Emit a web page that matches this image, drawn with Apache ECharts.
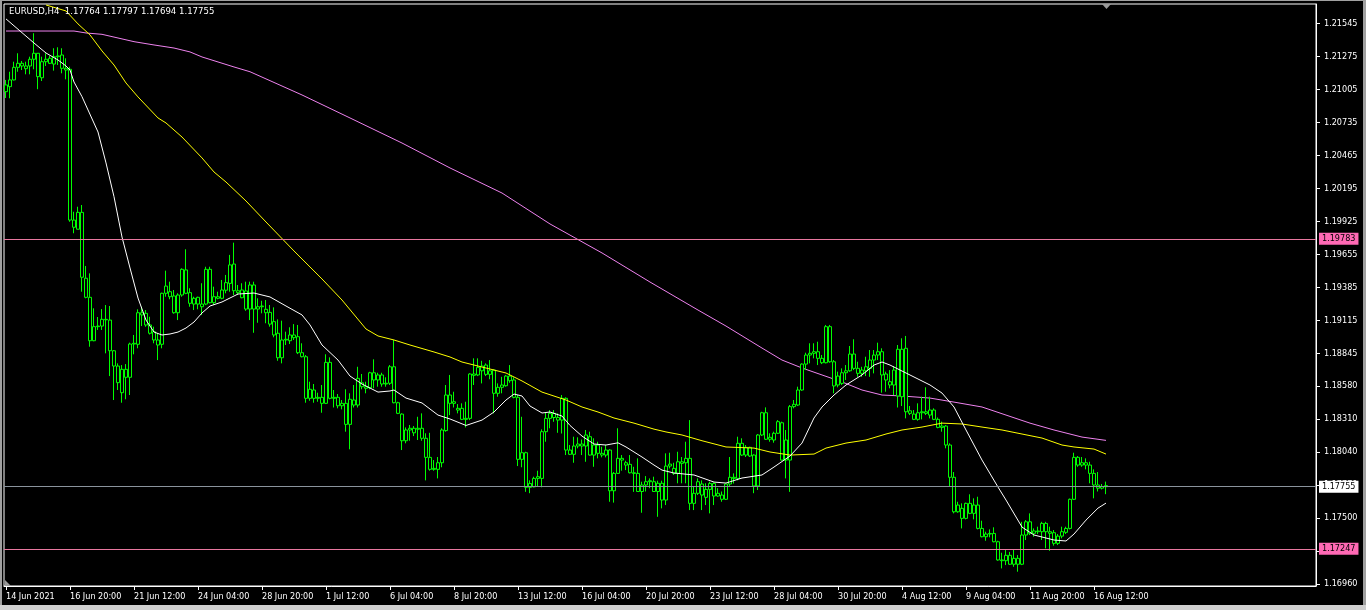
<!DOCTYPE html>
<html>
<head>
<meta charset="utf-8">
<script src="https://cdn.jsdelivr.net/npm/echarts@6/dist/echarts.min.js"></script>
<style>
html,body{margin:0;padding:0;background:#000;}
#c{width:1366px;height:610px;}
</style>
</head>
<body>
<div id="c"></div>
<script>
// ---- DATA (EURUSD H4) ----
var symbolTitle = 'EURUSD,H4  1.17764 1.17797 1.17694 1.17755';
var timeTickLabels = ['14 Jun 2021','16 Jun 20:00','21 Jun 12:00','24 Jun 04:00','28 Jun 20:00','1 Jul 12:00','6 Jul 04:00','8 Jul 20:00','13 Jul 12:00','16 Jul 04:00','20 Jul 20:00','23 Jul 12:00','28 Jul 04:00','30 Jul 20:00','4 Aug 12:00','9 Aug 04:00','11 Aug 20:00','16 Aug 12:00'];
var priceTicks = [1.16960,1.17230,1.17500,1.17770,1.18040,1.18310,1.18580,1.18845,1.19115,1.19385,1.19655,1.19925,1.20195,1.20465,1.20735,1.21005,1.21275,1.21545];
var priceLines = [1.19783, 1.17755, 1.17247];

var opens = [1.20986,1.21027,1.21082,1.21185,1.21218,1.21196,1.21196,1.21251,1.21300,1.21100,1.21231,1.21259,1.21212,1.21272,1.21286,1.21177,1.21169,1.19936,1.19861,1.19999,
1.19460,1.19304,1.18949,1.19064,1.19069,1.19124,1.19118,1.18867,1.18742,1.18715,1.18650,1.18650,1.18922,1.18920,1.19178,1.19173,1.19078,1.19023,1.18955,1.18920,
1.19337,1.19350,1.19315,1.19178,1.19323,1.19528,1.19342,1.19296,1.19249,1.19249,1.19249,1.19533,1.19260,1.19309,1.19296,1.19362,1.19418,1.19576,1.19358,1.19364,
1.19356,1.19208,1.19405,1.19208,1.19227,1.19206,1.19181,1.19105,1.19010,1.18810,1.18955,1.18949,1.18996,1.18982,1.18851,1.18818,1.18478,1.18546,1.18478,1.18486,
1.18437,1.18772,1.18478,1.18486,1.18417,1.18437,1.18265,1.18464,1.18423,1.18605,1.18573,1.18565,1.18687,1.18628,1.18669,1.18595,1.18601,1.18736,1.18442,1.18349,
1.18131,1.18219,1.18233,1.18225,1.18233,1.18151,1.17995,1.17897,1.17897,1.17951,1.18214,1.18505,1.18437,1.18396,1.18396,1.18306,1.18314,1.18677,1.18669,1.18703,
1.18750,1.18674,1.18709,1.18519,1.18568,1.18581,1.18660,1.18628,1.18486,1.17979,1.18033,1.17750,1.17754,1.17823,1.17823,1.18205,1.18314,1.18355,1.18321,1.18300,
1.18478,1.18055,1.18020,1.18088,1.18104,1.18088,1.18164,1.18014,1.18096,1.18028,1.18014,1.18055,1.17722,1.17864,1.17987,1.17951,1.17938,1.17869,1.17864,1.17716,
1.17769,1.17796,1.17796,1.17716,1.17783,1.17646,1.17924,1.17905,1.17864,1.17959,1.17951,1.17987,1.17619,1.17701,1.17777,1.17668,1.17733,1.17781,1.17679,1.17687,
1.17652,1.17777,1.17832,1.17823,1.18110,1.18014,1.18077,1.18014,1.17761,1.18178,1.18360,1.18143,1.18137,1.18192,1.18278,1.18137,1.17973,1.18410,1.18423,1.18546,
1.18758,1.18832,1.18846,1.18859,1.18805,1.18769,1.19064,1.18777,1.18587,1.18600,1.18687,1.18703,1.18840,1.18723,1.18682,1.18703,1.18723,1.18791,1.18832,1.18859,
1.18677,1.18614,1.18587,1.18879,1.18491,1.18887,1.18376,1.18349,1.18306,1.18360,1.18368,1.18341,1.18382,1.18306,1.18240,1.18251,1.18096,1.17832,1.17550,1.17578,
1.17496,1.17619,1.17537,1.17605,1.17414,1.17346,1.17368,1.17373,1.17305,1.17156,1.17150,1.17194,1.17121,1.17169,1.17121,1.17360,1.17468,1.17374,1.17393,1.17387,
1.17455,1.17387,1.17379,1.17292,1.17351,1.17382,1.17414,1.17652,1.17995,1.17932,1.17951,1.17932,1.17864,1.17769,1.17743,1.17764];
var highs = [1.21082,1.21149,1.21231,1.21300,1.21237,1.21231,1.21272,1.21464,1.21302,1.21272,1.21300,1.21278,1.21341,1.21349,1.21341,1.21259,1.21190,1.20004,1.20045,1.20059,
1.19560,1.19500,1.19214,1.19143,1.19208,1.19241,1.19233,1.18873,1.18764,1.18750,1.18758,1.18933,1.18996,1.19206,1.19227,1.19200,1.19145,1.19064,1.19010,1.19342,
1.19522,1.19432,1.19364,1.19337,1.19541,1.19697,1.19378,1.19309,1.19309,1.19419,1.19554,1.19554,1.19391,1.19350,1.19446,1.19487,1.19651,1.19751,1.19405,1.19419,
1.19432,1.19432,1.19432,1.19296,1.19276,1.19282,1.19241,1.19222,1.19124,1.19113,1.19023,1.19059,1.19085,1.19078,1.18928,1.18832,1.18614,1.18595,1.18524,1.18587,
1.18838,1.18813,1.18546,1.18513,1.18464,1.18552,1.18519,1.18587,1.18736,1.18677,1.18614,1.18695,1.18797,1.18687,1.18687,1.18650,1.18750,1.18955,1.18450,1.18355,
1.18240,1.18260,1.18251,1.18327,1.18355,1.18192,1.18196,1.17973,1.17998,1.18233,1.18587,1.18669,1.18532,1.18431,1.18437,1.18450,1.18683,1.18805,1.18805,1.18785,
1.18764,1.18791,1.18715,1.18600,1.18654,1.18669,1.18750,1.18650,1.18505,1.18327,1.18041,1.17807,1.17837,1.17886,1.18224,1.18360,1.18382,1.18382,1.18355,1.18505,
1.18486,1.18096,1.18164,1.18159,1.18141,1.18219,1.18205,1.18151,1.18123,1.18082,1.18096,1.18061,1.17875,1.18233,1.18014,1.17967,1.18014,1.17918,1.17987,1.17796,
1.17842,1.17823,1.17837,1.17804,1.17804,1.18028,1.18033,1.17951,1.18041,1.17998,1.18123,1.18300,1.17754,1.17823,1.17807,1.17783,1.17796,1.17790,1.17743,1.17716,
1.17781,1.17998,1.17864,1.18164,1.18151,1.18096,1.18082,1.18020,1.18186,1.18368,1.18404,1.18192,1.18205,1.18300,1.18287,1.18219,1.18423,1.18464,1.18573,1.18764,
1.18851,1.18928,1.18928,1.18941,1.18832,1.19078,1.19078,1.18791,1.18696,1.18723,1.18750,1.18906,1.18961,1.18777,1.18736,1.18818,1.18873,1.18873,1.18933,1.18887,
1.18696,1.18709,1.18742,1.18914,1.18969,1.18988,1.18415,1.18382,1.18437,1.18491,1.18568,1.18491,1.18396,1.18321,1.18287,1.18260,1.18110,1.17875,1.17632,1.17619,
1.17625,1.17693,1.17660,1.17673,1.17477,1.17387,1.17406,1.17423,1.17313,1.17215,1.17237,1.17222,1.17243,1.17196,1.17468,1.17482,1.17537,1.17414,1.17428,1.17468,
1.17468,1.17428,1.17401,1.17368,1.17428,1.17428,1.17658,1.18033,1.18006,1.17998,1.17987,1.17959,1.17897,1.17875,1.17777,1.17797];
var lows = [1.20934,1.20932,1.21078,1.21149,1.21163,1.21128,1.21128,1.21169,1.21006,1.21073,1.21196,1.21212,1.21158,1.21204,1.21136,1.21087,1.19922,1.19828,1.19860,1.19350,
1.19296,1.18900,1.18945,1.19037,1.19037,1.18846,1.18660,1.18464,1.18546,1.18442,1.18470,1.18505,1.18838,1.18887,1.19069,1.19063,1.19000,1.18928,1.18791,1.18887,
1.19309,1.19288,1.19170,1.19118,1.19309,1.19330,1.19227,1.19200,1.19206,1.19160,1.19240,1.19255,1.19241,1.19288,1.19288,1.19337,1.19350,1.19323,1.19323,1.19296,
1.19194,1.19118,1.19014,1.19096,1.19173,1.19092,1.19064,1.18977,1.18785,1.18764,1.18914,1.18922,1.18955,1.18840,1.18813,1.18442,1.18458,1.18442,1.18450,1.18360,
1.18431,1.18470,1.18403,1.18396,1.18388,1.18205,1.18061,1.18403,1.18403,1.18552,1.18519,1.18552,1.18560,1.18573,1.18573,1.18573,1.18587,1.18437,1.18349,1.18055,
1.18110,1.18131,1.18169,1.18137,1.18131,1.17807,1.17886,1.17886,1.17823,1.17914,1.18205,1.18341,1.18403,1.18355,1.18300,1.18240,1.18300,1.18587,1.18660,1.18600,
1.18660,1.18634,1.18355,1.18491,1.18519,1.18573,1.18605,1.18478,1.17924,1.17914,1.17713,1.17702,1.17750,1.17754,1.17750,1.18123,1.18233,1.18286,1.18196,1.18190,
1.18014,1.18014,1.17951,1.18069,1.18014,1.17959,1.18010,1.17918,1.17987,1.17995,1.17995,1.17632,1.17625,1.17860,1.17886,1.17891,1.17864,1.17713,1.17712,1.17542,
1.17716,1.17743,1.17713,1.17509,1.17578,1.17605,1.17905,1.17851,1.17783,1.17783,1.17783,1.17564,1.17564,1.17687,1.17564,1.17605,1.17537,1.17605,1.17673,1.17632,
1.17646,1.17761,1.17781,1.17807,1.18006,1.17998,1.17998,1.17702,1.17728,1.18170,1.18137,1.18123,1.18115,1.18186,1.17970,1.17823,1.17713,1.18396,1.18415,1.18540,
1.18709,1.18764,1.18805,1.18750,1.18758,1.18764,1.18769,1.18519,1.18568,1.18587,1.18628,1.18695,1.18709,1.18654,1.18654,1.18660,1.18654,1.18682,1.18791,1.18524,
1.18532,1.18560,1.18505,1.18403,1.18415,1.18314,1.18341,1.18300,1.18295,1.18306,1.18341,1.18314,1.18300,1.18233,1.18205,1.18069,1.17754,1.17537,1.17542,1.17414,
1.17488,1.17531,1.17488,1.17406,1.17341,1.17313,1.17341,1.17300,1.17150,1.17087,1.17114,1.17117,1.17100,1.17060,1.17114,1.17319,1.17360,1.17346,1.17368,1.17319,
1.17251,1.17231,1.17273,1.17278,1.17333,1.17368,1.17406,1.17646,1.17918,1.17918,1.17897,1.17783,1.17660,1.17716,1.17733,1.17694];
var closes = [1.21041,1.21082,1.21185,1.21218,1.21196,1.21174,1.21251,1.21300,1.21109,1.21231,1.21251,1.21218,1.21272,1.21278,1.21177,1.21163,1.19936,1.19877,1.19999,1.19468,
1.19304,1.18949,1.19064,1.19069,1.19124,1.19120,1.18867,1.18742,1.18606,1.18524,1.18715,1.18922,1.18928,1.19178,1.19160,1.19078,1.19010,1.18955,1.18914,1.19337,
1.19396,1.19309,1.19178,1.19323,1.19533,1.19337,1.19255,1.19249,1.19304,1.19227,1.19533,1.19260,1.19309,1.19296,1.19364,1.19424,1.19569,1.19358,1.19342,1.19301,
1.19208,1.19405,1.19208,1.19227,1.19233,1.19178,1.19085,1.18996,1.18810,1.18955,1.18961,1.18996,1.18974,1.18851,1.18818,1.18478,1.18552,1.18478,1.18486,1.18437,
1.18772,1.18478,1.18486,1.18417,1.18437,1.18265,1.18470,1.18423,1.18641,1.18573,1.18560,1.18687,1.18628,1.18669,1.18595,1.18601,1.18736,1.18442,1.18355,1.18131,
1.18219,1.18233,1.18196,1.18233,1.18151,1.17995,1.17897,1.17905,1.17951,1.18219,1.18505,1.18437,1.18450,1.18382,1.18306,1.18314,1.18677,1.18666,1.18731,1.18742,
1.18674,1.18703,1.18519,1.18568,1.18587,1.18660,1.18622,1.18486,1.17979,1.18033,1.17750,1.17781,1.17823,1.17837,1.18205,1.18314,1.18355,1.18321,1.18300,1.18478,
1.18055,1.18020,1.18088,1.18104,1.18088,1.18178,1.18014,1.18096,1.18028,1.18014,1.18055,1.17722,1.17864,1.17987,1.17973,1.17932,1.17869,1.17864,1.17716,1.17769,
1.17796,1.17804,1.17716,1.17783,1.17646,1.17924,1.17940,1.17864,1.17959,1.17946,1.17987,1.17619,1.17701,1.17796,1.17687,1.17733,1.17781,1.17679,1.17701,1.17652,
1.17777,1.17832,1.17823,1.18110,1.18014,1.18077,1.18006,1.17761,1.18178,1.18360,1.18143,1.18159,1.18192,1.18287,1.17973,1.17973,1.18410,1.18429,1.18546,1.18758,
1.18832,1.18846,1.18859,1.18805,1.18769,1.19064,1.18777,1.18579,1.18660,1.18687,1.18703,1.18840,1.18723,1.18682,1.18709,1.18736,1.18791,1.18832,1.18859,1.18669,
1.18628,1.18587,1.18709,1.18497,1.18879,1.18368,1.18355,1.18306,1.18360,1.18368,1.18355,1.18382,1.18306,1.18240,1.18251,1.18096,1.17832,1.17550,1.17605,1.17496,
1.17619,1.17537,1.17605,1.17414,1.17346,1.17368,1.17373,1.17305,1.17156,1.17150,1.17194,1.17121,1.17169,1.17121,1.17360,1.17468,1.17374,1.17393,1.17387,1.17455,
1.17387,1.17374,1.17292,1.17351,1.17387,1.17414,1.17652,1.17995,1.17932,1.17951,1.17932,1.17864,1.17769,1.17743,1.17757,1.17755];

// moving averages read at sampled bars
var maFastBars = [0,7,10,13,15,16,17,19,23,25,27,29,31,33,35,37,39,41,43,45,47,49,51,54,58,62,66,70,74,76,79,83,86,89,93,96,97,100,104,108,111,115,119,122,125,127,129,131,134,136,139,141,144,147,150,153,155,159,162,164,167,172,177,180,184,189,192,196,199,202,204,207,210,214,217,219,221,225,231,234,237,240,244,248,250,254,257,262,265,267,270,273,275];
var maFastVals = [1.21581,1.21384,1.21302,1.21245,1.21196,1.21163,1.21065,1.20945,1.20656,1.20403,1.20127,1.19797,1.19544,1.19298,1.19118,1.19020,1.18996,1.19004,1.19020,1.19053,1.19102,1.19176,1.19233,1.19266,1.19331,1.19339,1.19307,1.19233,1.19160,1.19078,1.18914,1.18791,1.18660,1.18595,1.18529,1.18538,1.18546,1.18480,1.18440,1.18341,1.18309,1.18256,1.18300,1.18366,1.18464,1.18513,1.18497,1.18415,1.18358,1.18366,1.18333,1.18256,1.18169,1.18104,1.18096,1.18114,1.18080,1.17998,1.17932,1.17891,1.17867,1.17851,1.17793,1.17785,1.17826,1.17851,1.17916,1.18006,1.18112,1.18317,1.18407,1.18505,1.18587,1.18669,1.18750,1.18775,1.18750,1.18685,1.18587,1.18521,1.18407,1.18219,1.17973,1.17752,1.17646,1.17425,1.17360,1.17319,1.17311,1.17368,1.17482,1.17580,1.17621];
var maMidBars = [10,15,18,21,24,27,30,33,38,40,44,49,52,55,60,65,72,79,84,90,93,97,101,107,111,114,118,125,129,134,140,144,148,152,157,162,165,169,174,180,187,191,196,202,205,210,215,220,224,229,234,239,244,249,254,259,264,267,272,275];
var maMidVals = [1.21695,1.21646,1.21540,1.21450,1.21319,1.21204,1.21057,1.20943,1.20771,1.20730,1.20615,1.20444,1.20329,1.20247,1.20092,1.19920,1.19683,1.19454,1.19282,1.19045,1.18988,1.18955,1.18914,1.18857,1.18816,1.18775,1.18742,1.18685,1.18620,1.18529,1.18464,1.18407,1.18366,1.18317,1.18275,1.18226,1.18203,1.18178,1.18131,1.18080,1.18071,1.18039,1.18014,1.18022,1.18071,1.18112,1.18137,1.18186,1.18219,1.18243,1.18275,1.18268,1.18243,1.18219,1.18186,1.18153,1.18096,1.18080,1.18063,1.18022];
var maSlowBars = [0,17,20,24,28,32,37,42,46,49,53,57,61,74,86,99,111,124,136,149,161,173,180,189,194,199,204,209,214,219,224,231,237,244,250,256,262,269,275];
var maSlowVals = [1.21482,1.21482,1.21466,1.21455,1.21425,1.21395,1.21368,1.21343,1.21311,1.21270,1.21229,1.21188,1.21149,1.20959,1.20771,1.20566,1.20362,1.20157,1.19904,1.19667,1.19429,1.19200,1.19069,1.18889,1.18791,1.18726,1.18669,1.18612,1.18546,1.18505,1.18497,1.18480,1.18447,1.18407,1.18341,1.18275,1.18219,1.18161,1.18134];

var barsOnAxis = 328;
var labelStep = 16;

// ---- BUILD ----
var cats = [];
for (var i = 0; i < barsOnAxis; i++) cats.push(String(i));
var candleData = opens.map(function (o, k) { return [o, closes[k], lows[k], highs[k]]; });
function pairs(b, v) { return b.map(function (x, k) { return [x, v[k]]; }); }
function isTick(idx) { return idx % labelStep === 0 && idx / labelStep < timeTickLabels.length; }

var FONT = '"DejaVu Sans Condensed", "DejaVu Sans", sans-serif';
var chart = echarts.init(document.getElementById('c'), null, { renderer: 'canvas' });

function hline(v, lineColor, boxColor) {
  return {
    yAxis: v,
    lineStyle: { color: lineColor, width: 1, type: 'solid' },
    label: { show: true, position: 'end', distance: 3, formatter: v.toFixed(5), color: '#000', backgroundColor: boxColor, padding: [2, 3, 1, 3], fontSize: 9, fontFamily: FONT }
  };
}

chart.setOption({
  backgroundColor: '#000',
  animation: false,
  grid: { left: 4, right: 50, top: 4, bottom: 24, show: true, borderColor: '#ffffff', borderWidth: 1, backgroundColor: '#000' },
  xAxis: {
    type: 'category', data: cats, boundaryGap: true,
    axisLine: { show: true, lineStyle: { color: '#ffffff', width: 1 } },
    axisTick: { show: true, alignWithLabel: true, length: 4, interval: function (idx) { return isTick(idx); }, lineStyle: { color: '#ffffff' } },
    axisLabel: { show: true, interval: function (idx) { return isTick(idx); }, formatter: function (v, idx) { return timeTickLabels[idx / labelStep] || ''; },
      color: '#ffffff', fontSize: 9, fontFamily: FONT, align: 'left', margin: 6 },
    splitLine: { show: false }
  },
  yAxis: {
    type: 'value', position: 'right', min: 1.16943, max: 1.21703, scale: true,
    axisLine: { show: true, lineStyle: { color: '#ffffff', width: 1 } },
    axisTick: { show: true, length: 4, customValues: priceTicks, lineStyle: { color: '#ffffff' } },
    axisLabel: { show: true, customValues: priceTicks, formatter: function (v) { return v.toFixed(5); }, color: '#ffffff', fontSize: 9, fontFamily: FONT, margin: 8 },
    splitLine: { show: false }
  },
  series: [
    {
      type: 'line', data: pairs(maSlowBars, maSlowVals), symbol: 'none', z: 2, lineStyle: { color: '#ee82ee', width: 1 },
      markLine: {
        silent: true, symbol: ['none', 'none'], animation: false, precision: 5,
        data: [hline(priceLines[0], '#e8789f', '#ff69b4'), hline(priceLines[1], '#8a939c', '#ffffff'), hline(priceLines[2], '#e8789f', '#ff69b4')]
      }
    },
    {
      type: 'candlestick', data: candleData, barWidth: 3, z: 3,
      itemStyle: { color: '#000000', color0: '#000000', borderColor: '#00ff00', borderColor0: '#00ff00', borderWidth: 1 }
    },
    { type: 'line', data: pairs(maMidBars, maMidVals), symbol: 'none', z: 4, lineStyle: { color: '#ffff00', width: 1 } },
    { type: 'line', data: pairs(maFastBars, maFastVals), symbol: 'none', z: 4, lineStyle: { color: '#ffffff', width: 1 } }
  ],
  graphic: [
    { type: 'rect', shape: { x: 0, y: 0, width: 2, height: 610 }, style: { fill: '#a0a0a0' }, silent: true },
    { type: 'rect', shape: { x: 1363, y: 0, width: 3, height: 610 }, style: { fill: '#a0a0a0' }, silent: true },
    { type: 'rect', shape: { x: 0, y: 605, width: 1366, height: 5 }, style: { fill: '#d0d0d0' }, silent: true },
    { type: 'rect', shape: { x: 0, y: 0, width: 1366, height: 1 }, style: { fill: '#a0a0a0' }, silent: true },
    { type: 'polygon', shape: { points: [[1102, 4], [1111, 4], [1106.5, 9]] }, style: { fill: '#9a9a9a' }, silent: true },
    { type: 'polygon', shape: { points: [[5, 580], [5, 586], [11, 586]] }, style: { fill: '#9a9a9a' }, silent: true },
    { type: 'text', left: 9, top: 7, z: 10, style: { text: symbolTitle, fill: '#ffffff', font: '9.5px ' + FONT } }
  ]
});
</script>
</body>
</html>
